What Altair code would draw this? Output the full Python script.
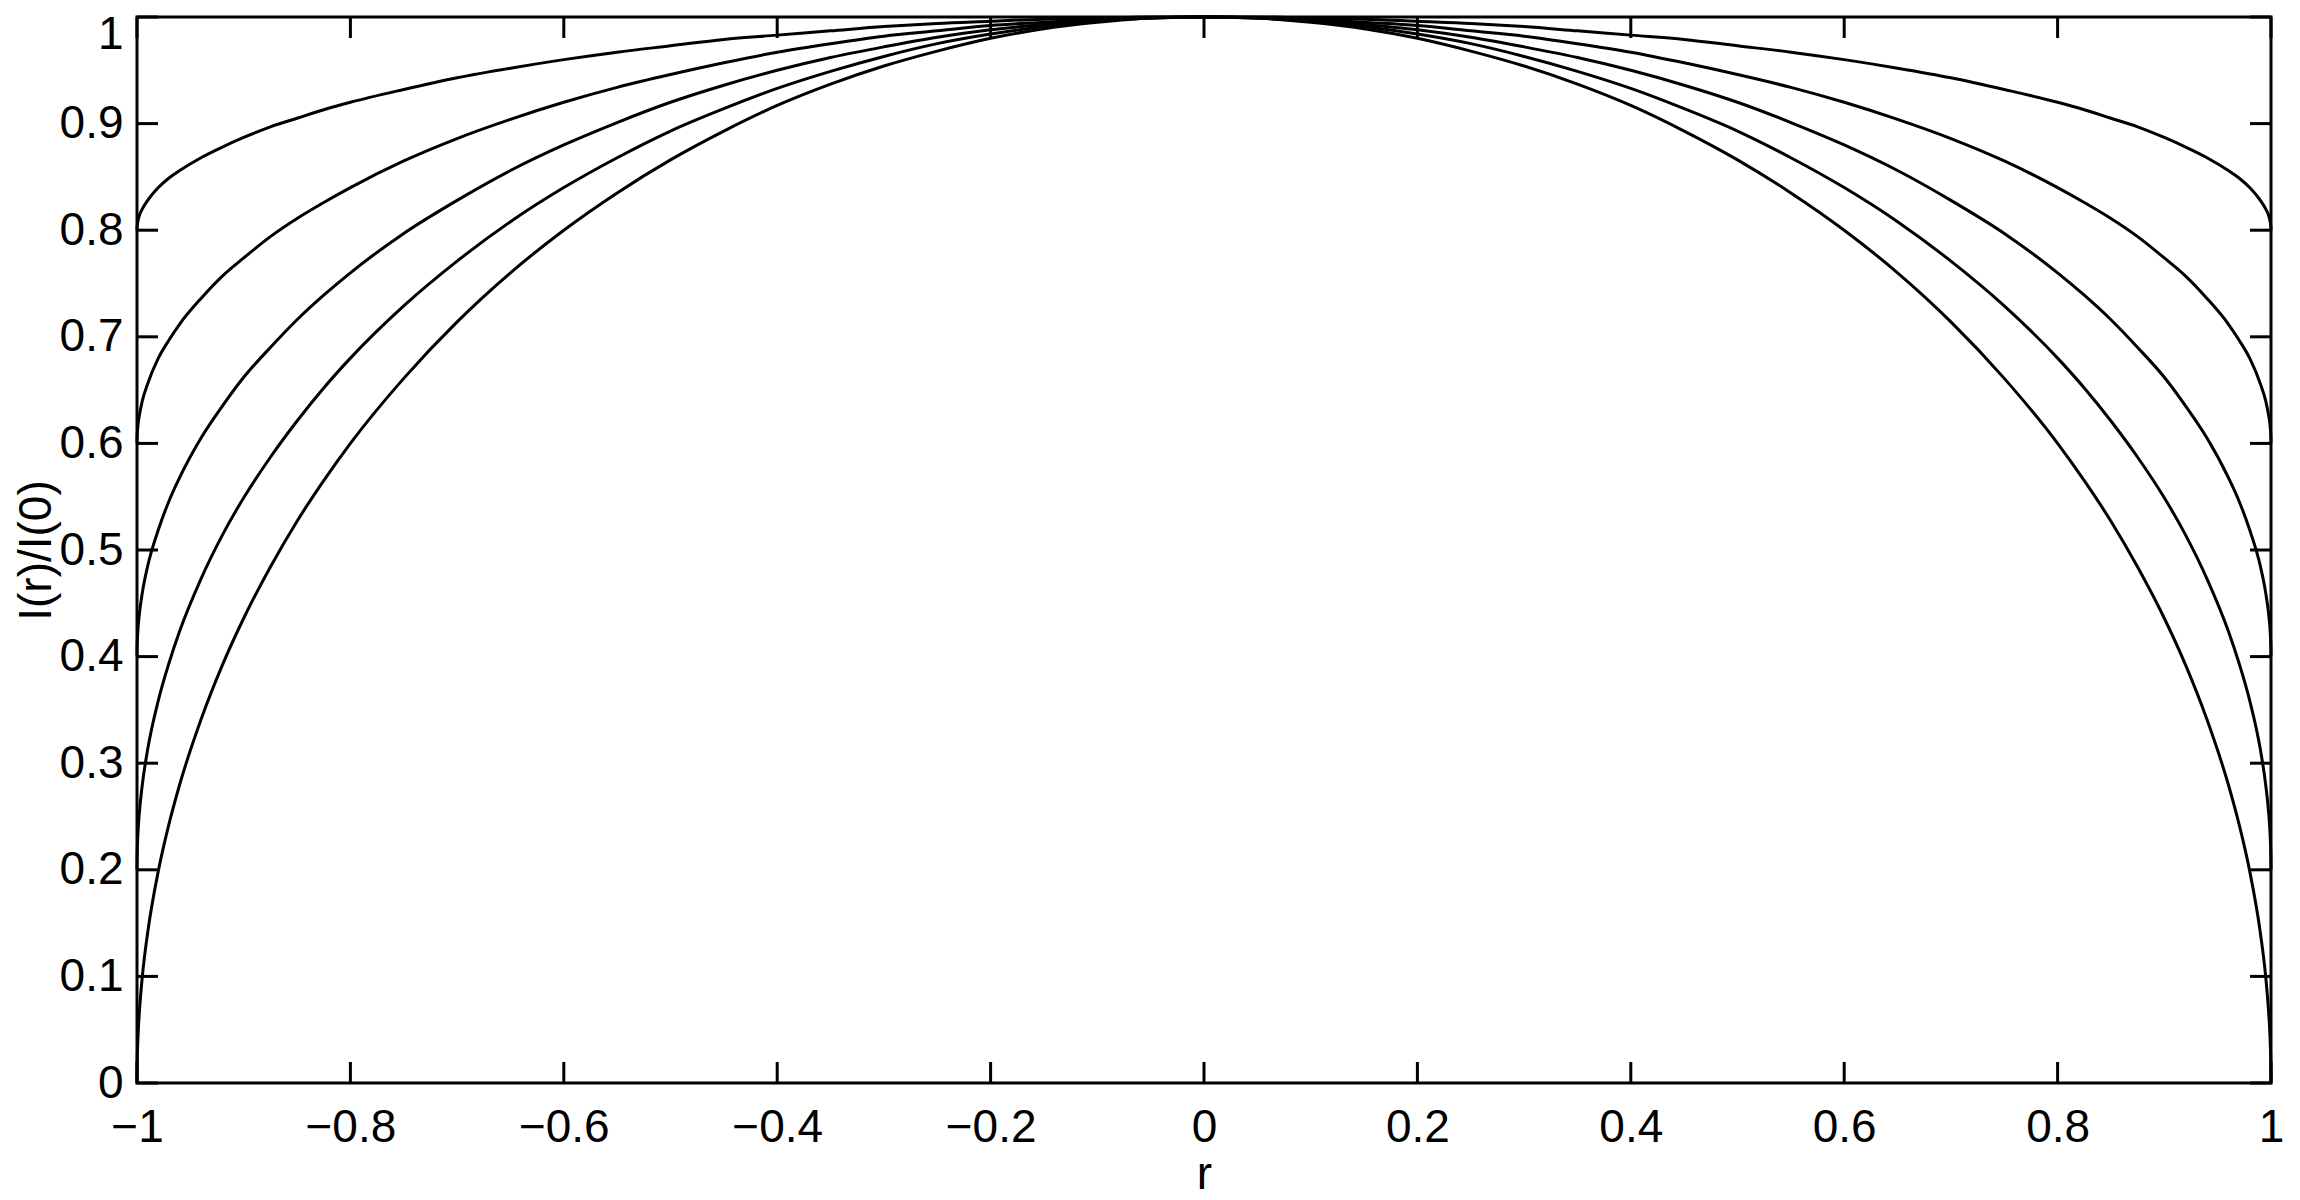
import altair as alt
import pandas as pd

# radial positions (positive half; the profile is symmetric about r = 0)
r_half = [0, 0.05, 0.1, 0.15, 0.2, 0.25, 0.3, 0.35, 0.4, 0.45, 0.5, 0.55, 0.6, 0.65,
          0.7, 0.75, 0.8, 0.825, 0.85, 0.875, 0.9, 0.92, 0.94, 0.96, 0.97, 0.98, 0.99,
          0.995, 0.998, 0.999, 0.9999, 1.0]

I_a = [1.000, 1.000, 0.999, 0.998, 0.996, 0.994, 0.991, 0.987, 0.983, 0.979, 0.973, 0.967,
       0.960, 0.952, 0.943, 0.932, 0.920, 0.913, 0.905, 0.897, 0.887, 0.878, 0.868, 0.856,
       0.849, 0.840, 0.828, 0.820, 0.813, 0.809, 0.803, 0.800]
I_b = [1.000, 0.9995, 0.998, 0.995, 0.992, 0.987, 0.982, 0.975, 0.967, 0.957, 0.946, 0.934,
       0.920, 0.904, 0.886, 0.865, 0.840, 0.826, 0.811, 0.794, 0.774, 0.757, 0.736, 0.712,
       0.697, 0.680, 0.656, 0.640, 0.625, 0.618, 0.606, 0.600]
I_c = [1.000, 0.999, 0.997, 0.993, 0.988, 0.981, 0.972, 0.962, 0.950, 0.936, 0.920, 0.901,
       0.880, 0.856, 0.828, 0.797, 0.760, 0.739, 0.716, 0.690, 0.662, 0.635, 0.605, 0.568,
       0.546, 0.519, 0.485, 0.460, 0.438, 0.427, 0.408, 0.400]
I_d = [1.000, 0.999, 0.996, 0.991, 0.984, 0.975, 0.963, 0.949, 0.933, 0.914, 0.893, 0.868,
       0.840, 0.808, 0.771, 0.729, 0.680, 0.652, 0.621, 0.587, 0.549, 0.514, 0.473, 0.424,
       0.394, 0.359, 0.313, 0.280, 0.251, 0.236, 0.211, 0.200]
I_e = [1.000, 0.999, 0.995, 0.989, 0.980, 0.968, 0.954, 0.937, 0.917, 0.893, 0.866, 0.835,
       0.800, 0.760, 0.714, 0.661, 0.600, 0.565, 0.527, 0.484, 0.436, 0.392, 0.341, 0.280,
       0.243, 0.199, 0.141, 0.100, 0.063, 0.045, 0.014, 0.000]

curves = {"a": I_a, "b": I_b, "c": I_c, "d": I_d, "e": I_e}

x_ticks = [-1, -0.8, -0.6, -0.4, -0.2, 0, 0.2, 0.4, 0.6, 0.8, 1]
y_ticks = [0, 0.1, 0.2, 0.3, 0.4, 0.5, 0.6, 0.7, 0.8, 0.9, 1]

rows = []
for name, vals in curves.items():
    for r, v in zip(r_half, vals):
        rows.append({"r": r, "I": v, "curve": name})
        if r != 0:
            rows.append({"r": -r, "I": v, "curve": name})
df = pd.DataFrame(rows)
xt = pd.DataFrame({"r": x_ticks})
yt = pd.DataFrame({"I": y_ticks})

W, H = 2134, 1066
TL = 21
FONT = "Liberation Sans"
FS = 46
LW = 3

xs = alt.Scale(domain=[-1, 1], nice=False, zero=False)
ys = alt.Scale(domain=[0, 1], nice=False, zero=False)

x_axis = alt.Axis(
    values=x_ticks, format="~g", title="r", ticks=False, domain=False, grid=False,
    labelPadding=22, titleX=W / 2, titleY=105, titleBaseline="alphabetic",
    titleAlign="center", labelFlush=False)
y_axis = alt.Axis(
    values=y_ticks, format="~g", title="I(r)/I(0)", ticks=False, domain=False,
    grid=False, labelPadding=14, titleX=-101, titleY=H / 2, titleAngle=-90,
    titleBaseline="middle", titleAlign="center", labelFlush=False,
    labelOffset={"expr": "datum.value == 1 ? 17 : 0"})

X = alt.X("r:Q", scale=xs, axis=x_axis)
Y = alt.Y("I:Q", scale=ys, axis=y_axis)

lines = alt.Chart(df).mark_line(color="black", strokeWidth=LW, interpolate="monotone").encode(
    x=X, y=Y, detail="curve:N", order="r:Q",
)

tick_style = dict(color="black", strokeWidth=LW)
bottom = alt.Chart(xt).mark_rule(**tick_style).encode(
    x=X, y=alt.value(H), y2=alt.value(H - TL))
top = alt.Chart(xt).mark_rule(**tick_style).encode(
    x=X, y=alt.value(0), y2=alt.value(TL))
left = alt.Chart(yt).mark_rule(**tick_style).encode(
    y=Y, x=alt.value(0), x2=alt.value(TL))
right = alt.Chart(yt).mark_rule(**tick_style).encode(
    y=Y, x=alt.value(W - TL), x2=alt.value(W))

chart = alt.layer(lines, bottom, top, left, right).properties(
    width=W, height=H,
    autosize=alt.AutoSizeParams(type="none"),
    padding={"left": 129, "top": 9, "right": 20, "bottom": 116},
).configure_view(
    stroke="black", strokeWidth=LW
).configure_axis(
    labelFont=FONT, labelFontSize=FS, labelColor="black",
    titleFont=FONT, titleFontSize=FS, titleColor="black", titleFontWeight="normal",
)

chart.save("out.html", embed_options={"renderer": "svg", "actions": False})
